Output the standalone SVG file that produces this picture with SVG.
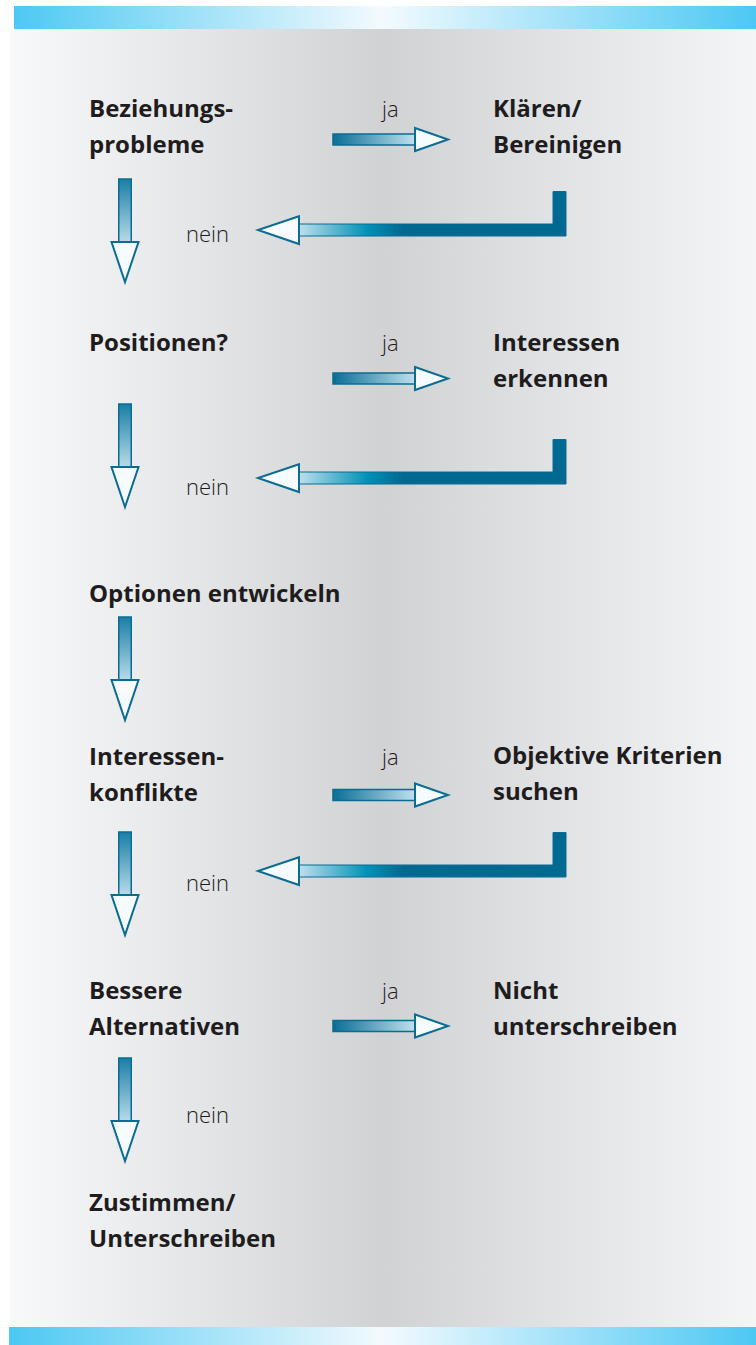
<svg xmlns="http://www.w3.org/2000/svg" width="756" height="1345" viewBox="0 0 756 1345">
  <defs>
    <linearGradient id="panel" x1="10" y1="0" x2="756" y2="0" gradientUnits="userSpaceOnUse">
      <stop offset="0" stop-color="#f8f9fb"/>
      <stop offset="0.5" stop-color="#d0d2d4"/>
      <stop offset="1" stop-color="#f4f5f7"/>
    </linearGradient>
    <linearGradient id="band" x1="10" y1="0" x2="756" y2="0" gradientUnits="userSpaceOnUse">
      <stop offset="0" stop-color="#4cc8f3"/>
      <stop offset="0.5" stop-color="#f3fafe"/>
      <stop offset="1" stop-color="#4cc8f3"/>
    </linearGradient>
    <linearGradient id="shaftDown" x1="0" y1="0" x2="0" y2="1">
      <stop offset="0" stop-color="#1a7ea6"/>
      <stop offset="1" stop-color="#c3e2ef"/>
    </linearGradient>
    <linearGradient id="shaftRight" x1="0" y1="0" x2="1" y2="0">
      <stop offset="0" stop-color="#0a6e95"/>
      <stop offset="1" stop-color="#c8e6f2"/>
    </linearGradient>
    <linearGradient id="shaftBack" x1="294" y1="0" x2="566" y2="0" gradientUnits="userSpaceOnUse">
      <stop offset="0" stop-color="#cbe5f1"/>
      <stop offset="0.27" stop-color="#0091b6"/>
      <stop offset="0.4" stop-color="#006991"/>
      <stop offset="1" stop-color="#006991"/>
    </linearGradient>

    <!-- downward "nein" arrow, origin at top of shaft centre -->
    <g id="arrowDown">
      <rect x="-6.25" y="0" width="12.5" height="68" fill="url(#shaftDown)" stroke="#0b6c92" stroke-width="1.5"/>
      <polygon points="-13.5,63 13.5,63 0,103" fill="#f5fbfe" stroke="#0b6c92" stroke-width="2" stroke-linejoin="miter"/>
    </g>
    <!-- rightward "ja" arrow, origin at vertical centre -->
    <g id="arrowRight">
      <rect x="333" y="-5.5" width="86" height="11" fill="url(#shaftRight)" stroke="#0b6c92" stroke-width="1.5"/>
      <polygon points="415,-11.5 448,0 415,11.5" fill="#f5fbfe" stroke="#0b6c92" stroke-width="2"/>
    </g>
    <!-- return arrow back to the main column, origin at vertical centre of the bar -->
    <g id="arrowBack">
      <polygon points="553,-38.5 566,-38.5 566,6 294,6 294,-6 553,-6" fill="url(#shaftBack)" stroke="#0b6c92" stroke-width="1"/>
      <polygon points="299,-13.7 258,0 299,14" fill="#f5fbfe" stroke="#0b6c92" stroke-width="2"/>
    </g>
  </defs>
  <style>
    .lbl { font-family: "Open Sans", "Noto Sans", "Liberation Sans", sans-serif; font-weight: 700; font-size: 24px; fill: #1f1c1d; }
    .ans { font-family: "Open Sans", "Noto Sans", "Liberation Sans", sans-serif; font-weight: 300; font-size: 22px; fill: #1f1c1d; }
  </style>

  <!-- backdrop -->
  <rect x="0" y="0" width="756" height="1345" fill="#ffffff"/>
  <rect x="10" y="29" width="746" height="1298" fill="url(#panel)"/>
  <rect x="14" y="6" width="742" height="23" fill="url(#band)"/>
  <rect x="9" y="1327" width="747" height="18" fill="url(#band)"/>

  <!-- connectors -->
  <g id="connectors">
    <use href="#arrowDown" transform="translate(125,179)"/>
    <use href="#arrowDown" transform="translate(125,404)"/>
    <use href="#arrowDown" transform="translate(125,617)"/>
    <use href="#arrowDown" transform="translate(125,832)"/>
    <use href="#arrowDown" transform="translate(125,1058)"/>

    <use href="#arrowRight" transform="translate(0,139.5)"/>
    <use href="#arrowRight" transform="translate(0,378.5)"/>
    <use href="#arrowRight" transform="translate(0,795)"/>
    <use href="#arrowRight" transform="translate(0,1026)"/>

    <use href="#arrowBack" transform="translate(0,230)"/>
    <use href="#arrowBack" transform="translate(0,478)"/>
    <use href="#arrowBack" transform="translate(0,871)"/>

    <text class="ans" x="382" y="116.5">ja</text>
    <text class="ans" x="382" y="351">ja</text>
    <text class="ans" x="382" y="765">ja</text>
    <text class="ans" x="382" y="999">ja</text>

    <text class="ans" x="186" y="242">nein</text>
    <text class="ans" x="186" y="495">nein</text>
    <text class="ans" x="186" y="891">nein</text>
    <text class="ans" x="186" y="1123">nein</text>
  </g>

  <!-- decision steps -->
  <g id="beziehungsprobleme">
    <text class="lbl" x="89" y="116.5">Beziehungs-</text>
    <text class="lbl" x="89" y="152.5">probleme</text>
  </g>
  <g id="klaeren">
    <text class="lbl" x="493" y="116.5">Klären/</text>
    <text class="lbl" x="493" y="152.5">Bereinigen</text>
  </g>
  <g id="positionen">
    <text class="lbl" x="89" y="351">Positionen?</text>
  </g>
  <g id="interessen-erkennen">
    <text class="lbl" x="493" y="351">Interessen</text>
    <text class="lbl" x="493" y="387">erkennen</text>
  </g>
  <g id="optionen">
    <text class="lbl" x="89" y="602">Optionen entwickeln</text>
  </g>
  <g id="interessenkonflikte">
    <text class="lbl" x="89" y="765">Interessen-</text>
    <text class="lbl" x="89" y="801">konflikte</text>
  </g>
  <g id="kriterien">
    <text class="lbl" x="493" y="764">Objektive Kriterien</text>
    <text class="lbl" x="493" y="800">suchen</text>
  </g>
  <g id="alternativen">
    <text class="lbl" x="89" y="999">Bessere</text>
    <text class="lbl" x="89" y="1035">Alternativen</text>
  </g>
  <g id="nicht-unterschreiben">
    <text class="lbl" x="493" y="999">Nicht</text>
    <text class="lbl" x="493" y="1035">unterschreiben</text>
  </g>
  <g id="zustimmen">
    <text class="lbl" x="89" y="1211">Zustimmen/</text>
    <text class="lbl" x="89" y="1247">Unterschreiben</text>
  </g>
</svg>
